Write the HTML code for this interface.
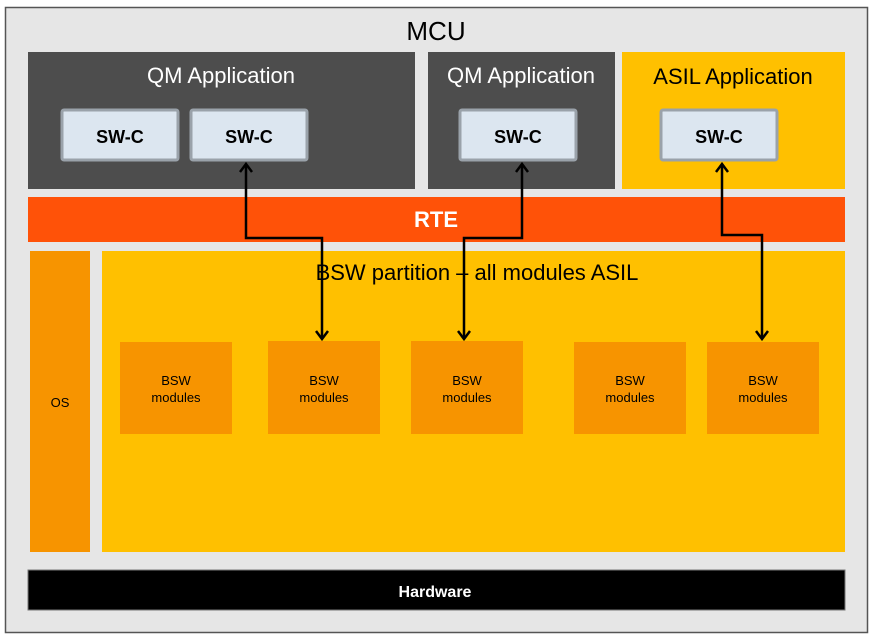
<!DOCTYPE html>
<html><head><style>body{margin:0;background:#fff}svg{display:block}</style></head><body>
<svg width="874" height="638" xmlns="http://www.w3.org/2000/svg" font-family="Liberation Sans, sans-serif">
<rect x="5.5" y="7.5" width="862" height="625" fill="#e6e6e6" stroke="#555" stroke-width="1.5"/>
<text x="436" y="40" font-size="26" text-anchor="middle" fill="#000">MCU</text>
<rect x="28" y="52" width="387" height="137" fill="#4d4d4d"/>
<text x="221" y="83" font-size="22" text-anchor="middle" fill="#fff">QM Application</text>
<rect x="428" y="52" width="187" height="137" fill="#4d4d4d"/>
<text x="521" y="83" font-size="22" text-anchor="middle" fill="#fff">QM Application</text>
<rect x="622" y="52" width="223" height="137" fill="#ffc000"/>
<text x="733" y="84" font-size="22" text-anchor="middle" fill="#000">ASIL Application</text>
<g fill="#dce6f0" stroke="#9aa2aa" stroke-width="3">
<rect x="62" y="110" width="116" height="50" rx="2"/>
<rect x="191" y="110" width="116" height="50" rx="2"/>
<rect x="460" y="110" width="116" height="50" rx="2"/>
<rect x="661" y="110" width="116" height="50" rx="2"/>
</g>
<g font-size="18" font-weight="bold" text-anchor="middle" fill="#000">
<text x="120" y="143">SW-C</text><text x="249" y="143">SW-C</text><text x="518" y="143">SW-C</text><text x="719" y="143">SW-C</text>
</g>
<rect x="28" y="197" width="817" height="45" fill="#ff5208"/>
<text x="436" y="227" font-size="22" font-weight="bold" text-anchor="middle" fill="#fff">RTE</text>
<rect x="30" y="251" width="60" height="301" fill="#f79400"/>
<text x="60" y="407" font-size="13" text-anchor="middle" fill="#000">OS</text>
<rect x="102" y="251" width="743" height="301" fill="#ffc000"/>
<text x="477" y="280" font-size="22" text-anchor="middle" fill="#000">BSW partition – all modules ASIL</text>
<g fill="#f79400">
<rect x="120" y="342" width="112" height="92"/><rect x="268" y="341" width="112" height="93"/><rect x="411" y="341" width="112" height="93"/><rect x="574" y="342" width="112" height="92"/><rect x="707" y="342" width="112" height="92"/>
</g>
<g font-size="13" text-anchor="middle" fill="#000">
<text x="176" y="385">BSW</text><text x="176" y="402">modules</text>
<text x="324" y="385">BSW</text><text x="324" y="402">modules</text>
<text x="467" y="385">BSW</text><text x="467" y="402">modules</text>
<text x="630" y="385">BSW</text><text x="630" y="402">modules</text>
<text x="763" y="385">BSW</text><text x="763" y="402">modules</text>
</g>
<g fill="none" stroke="#000" stroke-width="2.5">
<polyline points="246,164 246,238 322,238 322,338"/>
<polyline points="522,164 522,238 464,238 464,338"/>
<polyline points="722,164 722,235 762,235 762,338"/>
<polyline points="240,172 246,164 252,172"/><polyline points="316,331 322,339 328,331"/>
<polyline points="516,172 522,164 528,172"/><polyline points="458,331 464,339 470,331"/>
<polyline points="716,172 722,164 728,172"/><polyline points="756,331 762,339 768,331"/>
</g>
<rect x="28" y="570" width="817" height="40" fill="#000" stroke="#777" stroke-width="1"/>
<text x="435" y="597" font-size="16" font-weight="bold" text-anchor="middle" fill="#fff">Hardware</text>
</svg>
</body></html>
